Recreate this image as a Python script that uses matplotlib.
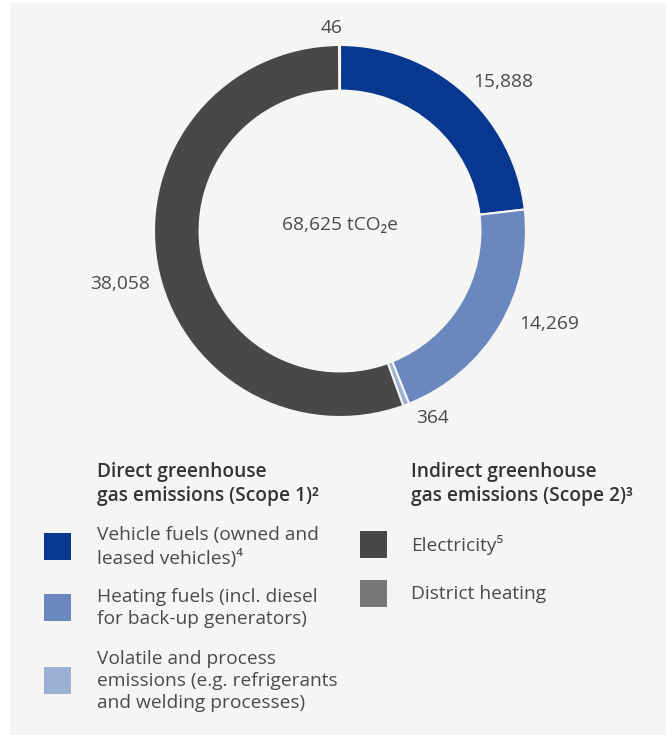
import matplotlib.pyplot as plt
from matplotlib.patches import Rectangle
import numpy as np

W, H = 670, 735

categories = ["Vehicle fuels", "Heating fuels", "Volatile and process emissions",
              "Electricity", "District heating"]
values = [15888, 14269, 364, 38058, 46]
value_labels = ["15,888", "14,269", "364", "38,058", "46"]
colors = ["#083790", "#6b88be", "#9cb0d6", "#484848", "#777777"]
total_label = "68,625 tCO\u2082e"

scope1_title = "Direct greenhouse\ngas emissions (Scope 1)\u00b2"
scope2_title = "Indirect greenhouse\ngas emissions (Scope 2)\u00b3"
scope1_items = ["Vehicle fuels (owned and\nleased vehicles)\u2074",
                "Heating fuels (incl. diesel\nfor back-up generators)",
                "Volatile and process\nemissions (e.g. refrigerants\nand welding processes)"]
scope2_items = ["Electricity\u2075", "District heating"]

txt = "#4a4a4a"
fam = ["Open Sans", "DejaVu Sans"]
fs = 13.8
ls = 1.28


def fx(px):
    return px / W


def fy(py):
    return 1 - py / H


fig = plt.figure(figsize=(W / 100, H / 100), dpi=100)
fig.patch.set_facecolor("white")
fig.patches.append(Rectangle((fx(10), 0), fx(656), fy(3), transform=fig.transFigure,
                             facecolor="#f5f5f3", edgecolor="none", zorder=-5))

# donut
cx, cy, r = 340, 231, 186
ax = fig.add_axes([fx(cx - r), fy(cy + r), fx(2 * r), (2 * r) / H])
ax.set_zorder(2)
ax.set_facecolor("none")
wedges, _ = ax.pie(values, colors=colors, startangle=90, counterclock=False,
                   radius=1, wedgeprops=dict(width=0.245, edgecolor="#f5f5f3", linewidth=1.5))
ax.set_xlim(-1, 1)
ax.set_ylim(-1, 1)
ax.set_aspect("equal")
ax.axis("off")

dists = [1.19, 1.23, 1.12, 1.215, 1.09]
shift = [-5.9, 6.7, 5.4, 3.4, 2.4]
for w, lab, d, s in zip(wedges, value_labels, dists, shift):
    ang = np.deg2rad((w.theta1 + w.theta2) / 2 + s)
    ax.text(d * np.cos(ang), d * np.sin(ang), lab, ha="center", va="center",
            color=txt, fontsize=fs, family=fam, clip_on=False)

ax.text(0, 0.03, total_label, ha="center", va="center", color=txt, fontsize=fs, family=fam)

# legend
fig.text(fx(97), fy(484), scope1_title, ha="left", va="center", color="#333333",
         fontsize=fs, fontweight="semibold", family=fam, linespacing=ls)
fig.text(fx(411), fy(484), scope2_title, ha="left", va="center", color="#333333",
         fontsize=fs, fontweight="semibold", family=fam, linespacing=ls)

left_y = [547, 608, 681]
for item, c, y in zip(scope1_items, colors[:3], left_y):
    fig.patches.append(Rectangle((fx(44), fy(y + 13)), fx(27), 27 / H, transform=fig.transFigure,
                                 facecolor=c, edgecolor="none"))
    fig.text(fx(97), fy(y), item, ha="left", va="center", color=txt, fontsize=fs,
             family=fam, linespacing=ls)

right_y = [545, 594]
for item, c, y in zip(scope2_items, colors[3:], right_y):
    fig.patches.append(Rectangle((fx(360), fy(y + 13)), fx(27), 27 / H, transform=fig.transFigure,
                                 facecolor=c, edgecolor="none"))
    fig.text(fx(411), fy(y), item, ha="left", va="center", color=txt, fontsize=fs,
             family=fam, linespacing=ls)

fig.savefig("out.png", dpi=100, facecolor=fig.get_facecolor())
